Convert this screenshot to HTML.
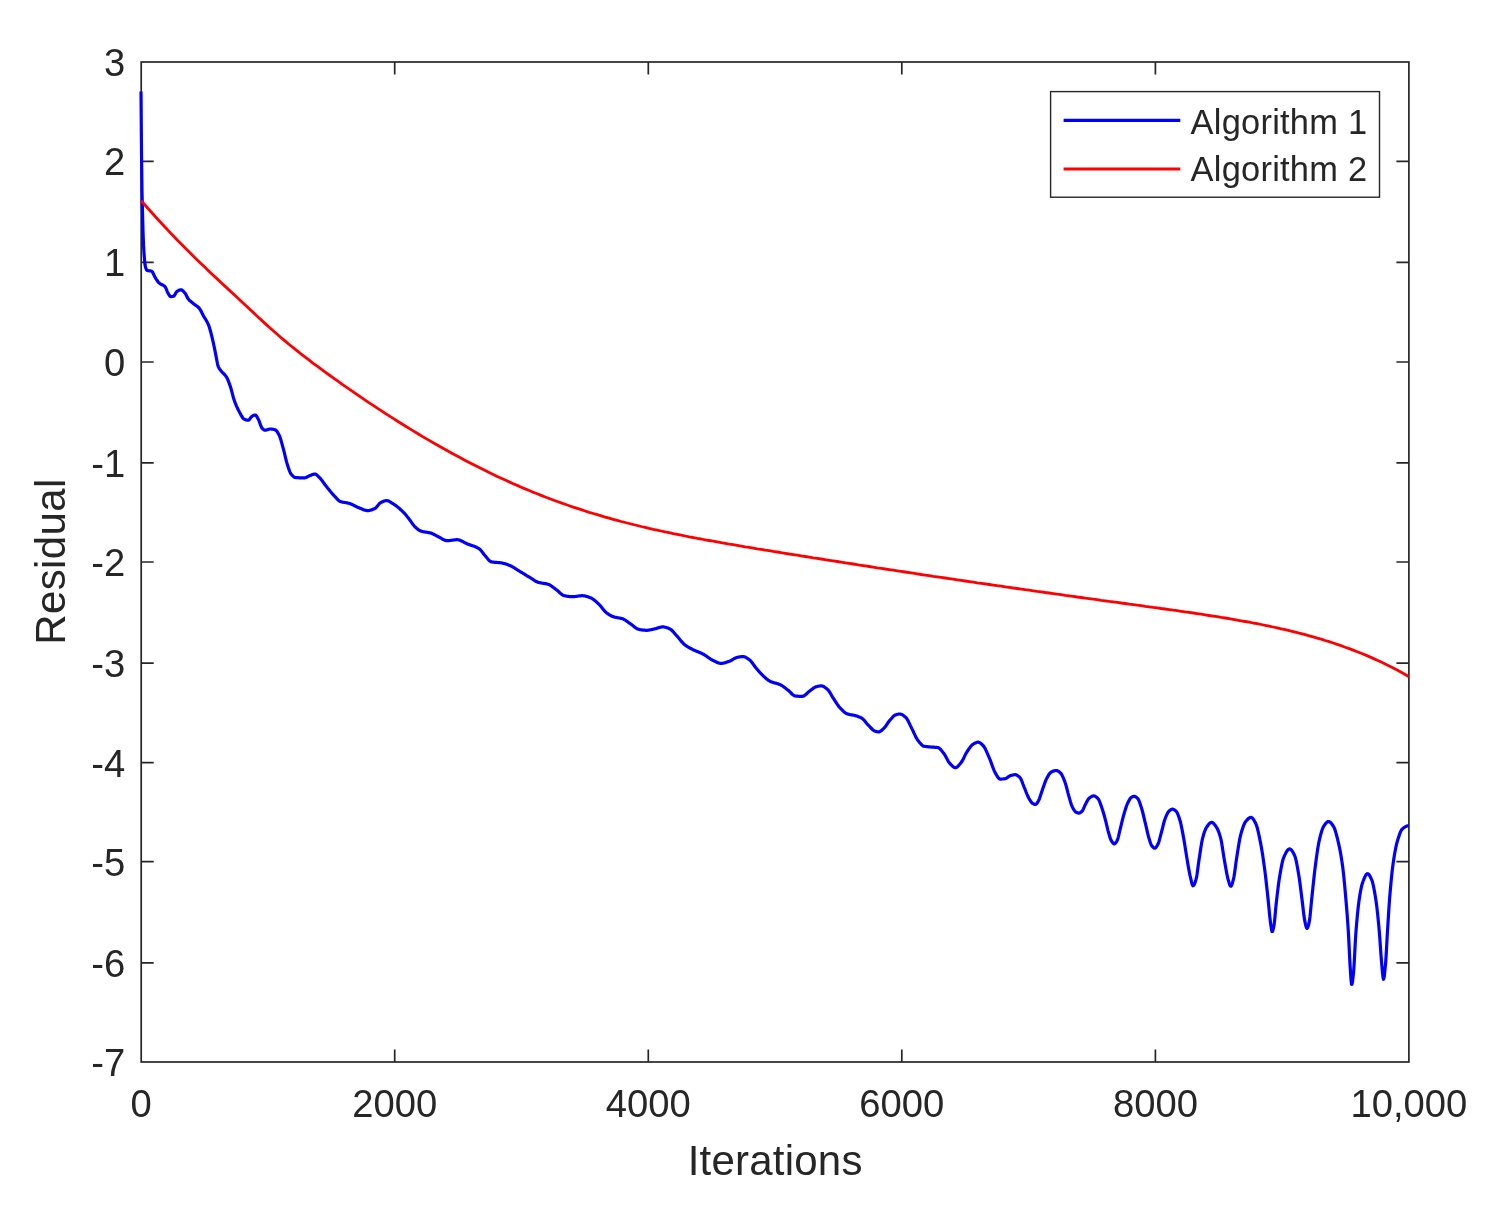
<!DOCTYPE html>
<html lang="en"><head><meta charset="utf-8"><title>Residual vs Iterations</title>
<style>html,body{margin:0;padding:0;background:#fff;}body{width:1493px;height:1207px;overflow:hidden;font-family:"Liberation Sans",Arial,sans-serif;}svg{display:block;}</style>
</head><body>
<svg width="1493" height="1207" viewBox="0 0 1493 1207" font-family="&quot;Liberation Sans&quot;, Arial, Helvetica, sans-serif" fill="#262626">
<rect width="1493" height="1207" fill="#fff"/>
<rect x="141.2" y="62.0" width="1267.7" height="1000.0" fill="none" stroke="#262626" stroke-width="1.7"/>
<path d="M394.7,1062.0 v-12.5 M394.7,62.0 v12.5 M648.3,1062.0 v-12.5 M648.3,62.0 v12.5 M901.8,1062.0 v-12.5 M901.8,62.0 v12.5 M1155.4,1062.0 v-12.5 M1155.4,62.0 v12.5 M141.2,161.3 h12.5 M1408.9,161.3 h-12.5 M141.2,262.3 h12.5 M1408.9,262.3 h-12.5 M141.2,362.0 h12.5 M1408.9,362.0 h-12.5 M141.2,462.8 h12.5 M1408.9,462.8 h-12.5 M141.2,562.0 h12.5 M1408.9,562.0 h-12.5 M141.2,663.1 h12.5 M1408.9,663.1 h-12.5 M141.2,762.6 h12.5 M1408.9,762.6 h-12.5 M141.2,861.6 h12.5 M1408.9,861.6 h-12.5 M141.2,962.9 h12.5 M1408.9,962.9 h-12.5" stroke="#262626" stroke-width="1.7" fill="none"/>
<path d="M141.0,91.5 L141.5,152.6 L142.0,191.1 L142.5,212.6 L143.0,231.2 L143.5,244.6 L144.0,253.1 L144.5,259.4 L145.0,264.6 L145.5,267.1 L146.0,268.7 L146.5,269.8 L147.0,270.4 L147.5,270.5 L148.0,270.7 L148.5,270.7 L149.0,270.8 L149.5,270.8 L150.0,270.9 L150.5,270.9 L151.0,271.0 L151.5,271.2 L152.0,271.5 L152.5,272.1 L153.0,273.0 L153.5,274.1 L154.0,275.2 L154.5,276.3 L155.0,277.2 L155.5,278.0 L156.0,278.8 L156.5,279.6 L157.0,280.3 L157.5,281.0 L158.0,281.7 L158.5,282.3 L159.0,282.8 L159.5,283.2 L160.0,283.6 L160.5,283.9 L161.0,284.2 L161.5,284.4 L162.0,284.7 L162.5,284.9 L163.0,285.2 L163.5,285.5 L164.0,285.8 L164.5,286.2 L165.0,286.7 L165.5,287.4 L166.0,288.4 L166.5,289.6 L167.0,290.9 L167.5,292.1 L168.0,293.2 L168.5,294.0 L169.0,294.8 L169.5,295.6 L170.0,296.2 L170.5,296.6 L171.0,296.6 L171.5,296.6 L172.0,296.5 L172.5,296.5 L173.0,296.4 L173.5,296.3 L174.0,296.0 L174.5,295.3 L175.0,294.5 L175.5,293.5 L176.0,292.6 L176.5,291.9 L177.0,291.4 L177.5,291.1 L178.0,290.8 L178.5,290.5 L179.0,290.3 L179.5,290.1 L180.0,289.9 L180.5,289.8 L181.0,289.8 L181.5,289.9 L182.0,290.1 L182.5,290.5 L183.0,290.9 L183.5,291.4 L184.0,292.0 L184.5,292.6 L185.0,293.1 L185.5,293.8 L186.0,294.7 L186.5,295.7 L187.0,296.8 L187.5,297.8 L188.0,298.6 L188.5,299.2 L189.0,299.8 L189.5,300.3 L190.0,300.8 L190.5,301.2 L191.0,301.6 L191.5,302.0 L192.0,302.4 L192.5,302.8 L193.0,303.2 L193.5,303.7 L194.0,304.1 L194.5,304.4 L195.0,304.8 L195.5,305.1 L196.0,305.5 L196.5,305.8 L197.0,306.2 L197.5,306.6 L198.0,307.0 L198.5,307.5 L199.0,308.0 L199.5,308.5 L200.0,309.3 L200.5,310.1 L201.0,311.0 L201.5,312.0 L202.0,313.0 L202.5,314.1 L203.0,315.0 L203.5,316.0 L204.0,316.8 L204.5,317.6 L205.0,318.4 L205.5,319.2 L206.0,320.0 L206.5,320.9 L207.0,321.8 L207.5,322.7 L208.0,323.8 L208.5,324.9 L209.0,326.3 L209.5,327.8 L210.0,329.5 L210.5,331.2 L211.0,333.1 L211.5,335.1 L212.0,337.1 L212.5,339.1 L213.0,341.3 L213.5,343.6 L214.0,346.0 L214.5,348.4 L215.0,350.9 L215.5,353.3 L216.0,355.9 L216.5,358.6 L217.0,361.3 L217.5,363.8 L218.0,365.8 L218.5,367.1 L219.0,368.1 L219.5,368.9 L220.0,369.6 L220.5,370.2 L221.0,370.8 L221.5,371.4 L222.0,372.0 L222.5,372.6 L223.0,373.1 L223.5,373.5 L224.0,374.0 L224.5,374.5 L225.0,375.1 L225.5,375.6 L226.0,376.3 L226.5,377.1 L227.0,377.9 L227.5,379.0 L228.0,380.1 L228.5,381.4 L229.0,382.7 L229.5,384.1 L230.0,385.5 L230.5,387.0 L231.0,388.6 L231.5,390.4 L232.0,392.3 L232.5,394.2 L233.0,396.1 L233.5,398.0 L234.0,399.6 L234.5,401.1 L235.0,402.4 L235.5,403.7 L236.0,404.9 L236.5,406.1 L237.0,407.2 L237.5,408.3 L238.0,409.3 L238.5,410.3 L239.0,411.2 L239.5,412.2 L240.0,413.1 L240.5,414.1 L241.0,415.0 L241.5,415.9 L242.0,416.8 L242.5,417.5 L243.0,418.2 L243.5,418.7 L244.0,419.1 L244.5,419.3 L245.0,419.5 L245.5,419.7 L246.0,419.9 L246.5,420.0 L247.0,420.1 L247.5,420.2 L248.0,420.2 L248.5,420.1 L249.0,419.8 L249.5,419.3 L250.0,418.6 L250.5,417.9 L251.0,417.3 L251.5,416.7 L252.0,416.3 L252.5,416.0 L253.0,415.7 L253.5,415.4 L254.0,415.2 L254.5,415.1 L255.0,415.0 L255.5,415.1 L256.0,415.5 L256.5,416.1 L257.0,416.9 L257.5,417.8 L258.0,418.6 L258.5,419.6 L259.0,420.7 L259.5,422.1 L260.0,423.5 L260.5,424.9 L261.0,426.2 L261.5,427.3 L262.0,428.1 L262.5,428.6 L263.0,429.1 L263.5,429.5 L264.0,429.8 L264.5,430.1 L265.0,430.2 L265.5,430.2 L266.0,430.1 L266.5,430.0 L267.0,429.8 L267.5,429.7 L268.0,429.5 L268.5,429.3 L269.0,429.2 L269.5,429.1 L270.0,429.0 L270.5,429.0 L271.0,429.0 L271.5,429.1 L272.0,429.1 L272.5,429.2 L273.0,429.3 L273.5,429.4 L274.0,429.5 L274.5,429.6 L275.0,429.7 L275.5,429.9 L276.0,430.3 L276.5,430.8 L277.0,431.4 L277.5,432.2 L278.0,433.1 L278.5,434.0 L279.0,434.9 L279.5,435.9 L280.0,437.2 L280.5,438.7 L281.0,440.3 L281.5,442.1 L282.0,443.9 L282.5,445.7 L283.0,447.6 L283.5,449.4 L284.0,451.4 L284.5,453.4 L285.0,455.5 L285.5,457.7 L286.0,459.7 L286.5,461.7 L287.0,463.4 L287.5,465.0 L288.0,466.5 L288.5,468.1 L289.0,469.5 L289.5,470.9 L290.0,472.1 L290.5,473.1 L291.0,474.0 L291.5,474.6 L292.0,475.2 L292.5,475.7 L293.0,476.2 L293.5,476.7 L294.0,477.0 L294.5,477.3 L295.0,477.5 L295.5,477.5 L296.0,477.6 L296.5,477.6 L297.0,477.6 L297.5,477.7 L298.0,477.7 L298.5,477.7 L299.0,477.8 L299.5,477.8 L300.0,477.8 L300.5,477.8 L301.0,477.9 L301.5,477.9 L302.0,477.9 L302.5,477.9 L303.0,477.9 L303.5,477.9 L304.0,477.9 L304.5,477.9 L305.0,477.8 L305.5,477.7 L306.0,477.5 L306.5,477.3 L307.0,477.1 L307.5,476.8 L308.0,476.6 L308.5,476.3 L309.0,476.0 L309.5,475.8 L310.0,475.6 L310.5,475.4 L311.0,475.2 L311.5,475.0 L312.0,474.7 L312.5,474.5 L313.0,474.4 L313.5,474.2 L314.0,474.1 L314.5,474.0 L315.0,474.0 L315.5,474.1 L316.0,474.4 L316.5,474.7 L317.0,475.1 L317.5,475.6 L318.0,476.1 L318.5,476.6 L319.0,477.1 L319.5,477.6 L320.0,478.1 L320.5,478.7 L321.0,479.2 L321.5,479.9 L322.0,480.5 L322.5,481.2 L323.0,481.9 L323.5,482.6 L324.0,483.3 L324.5,484.0 L325.0,484.7 L325.5,485.3 L326.0,486.0 L326.5,486.6 L327.0,487.2 L327.5,487.9 L328.0,488.5 L328.5,489.1 L329.0,489.7 L329.5,490.3 L330.0,491.0 L330.5,491.6 L331.0,492.2 L331.5,492.8 L332.0,493.4 L332.5,493.9 L333.0,494.5 L333.5,495.0 L334.0,495.6 L334.5,496.1 L335.0,496.6 L335.5,497.2 L336.0,497.7 L336.5,498.3 L337.0,498.8 L337.5,499.4 L338.0,499.9 L338.5,500.3 L339.0,500.7 L339.5,501.1 L340.0,501.4 L340.5,501.6 L341.0,501.8 L341.5,501.9 L342.0,502.0 L342.5,502.1 L343.0,502.2 L343.5,502.3 L344.0,502.4 L344.5,502.5 L345.0,502.5 L345.5,502.6 L346.0,502.7 L346.5,502.8 L347.0,502.8 L347.5,502.9 L348.0,503.1 L348.5,503.2 L349.0,503.3 L349.5,503.5 L350.0,503.6 L350.5,503.8 L351.0,504.0 L351.5,504.3 L352.0,504.5 L352.5,504.7 L353.0,505.0 L353.5,505.2 L354.0,505.5 L354.5,505.7 L355.0,506.0 L355.5,506.2 L356.0,506.5 L356.5,506.7 L357.0,506.9 L357.5,507.2 L358.0,507.4 L358.5,507.6 L359.0,507.8 L359.5,508.0 L360.0,508.2 L360.5,508.4 L361.0,508.6 L361.5,508.8 L362.0,509.1 L362.5,509.3 L363.0,509.5 L363.5,509.7 L364.0,509.9 L364.5,510.0 L365.0,510.2 L365.5,510.3 L366.0,510.4 L366.5,510.5 L367.0,510.6 L367.5,510.6 L368.0,510.6 L368.5,510.6 L369.0,510.5 L369.5,510.4 L370.0,510.3 L370.5,510.2 L371.0,510.0 L371.5,509.9 L372.0,509.7 L372.5,509.5 L373.0,509.3 L373.5,509.1 L374.0,508.9 L374.5,508.7 L375.0,508.4 L375.5,508.1 L376.0,507.6 L376.5,507.1 L377.0,506.5 L377.5,505.9 L378.0,505.3 L378.5,504.6 L379.0,504.1 L379.5,503.5 L380.0,503.1 L380.5,502.7 L381.0,502.5 L381.5,502.2 L382.0,502.0 L382.5,501.7 L383.0,501.5 L383.5,501.3 L384.0,501.1 L384.5,501.0 L385.0,500.8 L385.5,500.7 L386.0,500.6 L386.5,500.6 L387.0,500.6 L387.5,500.7 L388.0,500.8 L388.5,501.0 L389.0,501.2 L389.5,501.5 L390.0,501.8 L390.5,502.1 L391.0,502.4 L391.5,502.8 L392.0,503.1 L392.5,503.4 L393.0,503.7 L393.5,504.0 L394.0,504.4 L394.5,504.7 L395.0,505.0 L395.5,505.4 L396.0,505.7 L396.5,506.1 L397.0,506.5 L397.5,506.9 L398.0,507.3 L398.5,507.7 L399.0,508.1 L399.5,508.6 L400.0,509.0 L400.5,509.5 L401.0,509.9 L401.5,510.4 L402.0,510.8 L402.5,511.3 L403.0,511.8 L403.5,512.3 L404.0,512.8 L404.5,513.4 L405.0,513.9 L405.5,514.5 L406.0,515.1 L406.5,515.7 L407.0,516.4 L407.5,517.0 L408.0,517.6 L408.5,518.2 L409.0,518.9 L409.5,519.5 L410.0,520.2 L410.5,520.9 L411.0,521.6 L411.5,522.4 L412.0,523.1 L412.5,523.8 L413.0,524.5 L413.5,525.1 L414.0,525.7 L414.5,526.3 L415.0,526.8 L415.5,527.3 L416.0,527.7 L416.5,528.2 L417.0,528.6 L417.5,529.0 L418.0,529.4 L418.5,529.8 L419.0,530.2 L419.5,530.5 L420.0,530.7 L420.5,531.0 L421.0,531.1 L421.5,531.3 L422.0,531.4 L422.5,531.5 L423.0,531.7 L423.5,531.8 L424.0,531.9 L424.5,531.9 L425.0,532.0 L425.5,532.1 L426.0,532.2 L426.5,532.2 L427.0,532.3 L427.5,532.4 L428.0,532.5 L428.5,532.6 L429.0,532.6 L429.5,532.7 L430.0,532.9 L430.5,533.0 L431.0,533.1 L431.5,533.3 L432.0,533.5 L432.5,533.7 L433.0,533.9 L433.5,534.2 L434.0,534.4 L434.5,534.7 L435.0,534.9 L435.5,535.2 L436.0,535.5 L436.5,535.8 L437.0,536.1 L437.5,536.3 L438.0,536.6 L438.5,536.9 L439.0,537.1 L439.5,537.3 L440.0,537.6 L440.5,537.9 L441.0,538.2 L441.5,538.5 L442.0,538.8 L442.5,539.1 L443.0,539.4 L443.5,539.6 L444.0,539.9 L444.5,540.1 L445.0,540.3 L445.5,540.5 L446.0,540.6 L446.5,540.7 L447.0,540.7 L447.5,540.7 L448.0,540.7 L448.5,540.6 L449.0,540.6 L449.5,540.5 L450.0,540.5 L450.5,540.4 L451.0,540.4 L451.5,540.3 L452.0,540.2 L452.5,540.1 L453.0,540.1 L453.5,540.0 L454.0,539.9 L454.5,539.9 L455.0,539.8 L455.5,539.8 L456.0,539.7 L456.5,539.7 L457.0,539.7 L457.5,539.7 L458.0,539.8 L458.5,539.8 L459.0,540.0 L459.5,540.1 L460.0,540.3 L460.5,540.5 L461.0,540.7 L461.5,540.9 L462.0,541.2 L462.5,541.4 L463.0,541.7 L463.5,542.0 L464.0,542.3 L464.5,542.5 L465.0,542.8 L465.5,543.1 L466.0,543.3 L466.5,543.5 L467.0,543.8 L467.5,544.0 L468.0,544.2 L468.5,544.3 L469.0,544.5 L469.5,544.7 L470.0,544.9 L470.5,545.0 L471.0,545.2 L471.5,545.4 L472.0,545.5 L472.5,545.7 L473.0,545.9 L473.5,546.1 L474.0,546.3 L474.5,546.4 L475.0,546.6 L475.5,546.9 L476.0,547.1 L476.5,547.3 L477.0,547.5 L477.5,547.8 L478.0,548.1 L478.5,548.4 L479.0,548.7 L479.5,549.0 L480.0,549.4 L480.5,549.9 L481.0,550.5 L481.5,551.1 L482.0,551.7 L482.5,552.4 L483.0,553.0 L483.5,553.7 L484.0,554.4 L484.5,555.0 L485.0,555.6 L485.5,556.1 L486.0,556.7 L486.5,557.3 L487.0,558.0 L487.5,558.6 L488.0,559.2 L488.5,559.8 L489.0,560.3 L489.5,560.8 L490.0,561.2 L490.5,561.5 L491.0,561.7 L491.5,561.9 L492.0,562.0 L492.5,562.0 L493.0,562.1 L493.5,562.2 L494.0,562.2 L494.5,562.3 L495.0,562.3 L495.5,562.4 L496.0,562.4 L496.5,562.4 L497.0,562.5 L497.5,562.5 L498.0,562.5 L498.5,562.6 L499.0,562.6 L499.5,562.7 L500.0,562.7 L500.5,562.8 L501.0,562.9 L501.5,562.9 L502.0,563.0 L502.5,563.1 L503.0,563.2 L503.5,563.4 L504.0,563.5 L504.5,563.6 L505.0,563.8 L505.5,563.9 L506.0,564.1 L506.5,564.3 L507.0,564.4 L507.5,564.6 L508.0,564.8 L508.5,565.0 L509.0,565.2 L509.5,565.4 L510.0,565.6 L510.5,565.8 L511.0,566.0 L511.5,566.3 L512.0,566.5 L512.5,566.8 L513.0,567.1 L513.5,567.4 L514.0,567.7 L514.5,568.0 L515.0,568.3 L515.5,568.6 L516.0,569.0 L516.5,569.3 L517.0,569.6 L517.5,570.0 L518.0,570.3 L518.5,570.6 L519.0,570.9 L519.5,571.2 L520.0,571.5 L520.5,571.8 L521.0,572.1 L521.5,572.4 L522.0,572.7 L522.5,573.0 L523.0,573.3 L523.5,573.6 L524.0,573.9 L524.5,574.2 L525.0,574.5 L525.5,574.9 L526.0,575.2 L526.5,575.5 L527.0,575.8 L527.5,576.1 L528.0,576.4 L528.5,576.7 L529.0,576.9 L529.5,577.2 L530.0,577.5 L530.5,577.8 L531.0,578.2 L531.5,578.5 L532.0,578.8 L532.5,579.1 L533.0,579.5 L533.5,579.8 L534.0,580.1 L534.5,580.5 L535.0,580.8 L535.5,581.1 L536.0,581.4 L536.5,581.6 L537.0,581.8 L537.5,582.1 L538.0,582.2 L538.5,582.4 L539.0,582.5 L539.5,582.6 L540.0,582.8 L540.5,582.9 L541.0,582.9 L541.5,583.0 L542.0,583.1 L542.5,583.2 L543.0,583.3 L543.5,583.3 L544.0,583.4 L544.5,583.5 L545.0,583.6 L545.5,583.7 L546.0,583.7 L546.5,583.9 L547.0,584.0 L547.5,584.1 L548.0,584.2 L548.5,584.4 L549.0,584.6 L549.5,584.8 L550.0,585.1 L550.5,585.4 L551.0,585.7 L551.5,586.1 L552.0,586.4 L552.5,586.8 L553.0,587.2 L553.5,587.6 L554.0,588.0 L554.5,588.3 L555.0,588.7 L555.5,589.1 L556.0,589.5 L556.5,589.8 L557.0,590.2 L557.5,590.6 L558.0,591.1 L558.5,591.5 L559.0,592.0 L559.5,592.5 L560.0,592.9 L560.5,593.4 L561.0,593.8 L561.5,594.2 L562.0,594.6 L562.5,594.9 L563.0,595.2 L563.5,595.4 L564.0,595.6 L564.5,595.7 L565.0,595.8 L565.5,595.9 L566.0,596.0 L566.5,596.1 L567.0,596.2 L567.5,596.3 L568.0,596.4 L568.5,596.4 L569.0,596.5 L569.5,596.6 L570.0,596.6 L570.5,596.6 L571.0,596.7 L571.5,596.7 L572.0,596.7 L572.5,596.7 L573.0,596.7 L573.5,596.7 L574.0,596.6 L574.5,596.6 L575.0,596.5 L575.5,596.5 L576.0,596.4 L576.5,596.3 L577.0,596.3 L577.5,596.2 L578.0,596.1 L578.5,596.0 L579.0,596.0 L579.5,595.9 L580.0,595.8 L580.5,595.8 L581.0,595.8 L581.5,595.7 L582.0,595.7 L582.5,595.7 L583.0,595.7 L583.5,595.8 L584.0,595.8 L584.5,595.9 L585.0,596.0 L585.5,596.1 L586.0,596.2 L586.5,596.4 L587.0,596.5 L587.5,596.7 L588.0,596.8 L588.5,597.0 L589.0,597.2 L589.5,597.4 L590.0,597.6 L590.5,597.7 L591.0,598.0 L591.5,598.2 L592.0,598.5 L592.5,598.8 L593.0,599.1 L593.5,599.5 L594.0,599.9 L594.5,600.3 L595.0,600.7 L595.5,601.1 L596.0,601.5 L596.5,602.0 L597.0,602.4 L597.5,602.9 L598.0,603.3 L598.5,603.8 L599.0,604.3 L599.5,604.8 L600.0,605.4 L600.5,605.9 L601.0,606.5 L601.5,607.2 L602.0,607.8 L602.5,608.5 L603.0,609.1 L603.5,609.7 L604.0,610.3 L604.5,610.9 L605.0,611.4 L605.5,611.9 L606.0,612.4 L606.5,612.8 L607.0,613.2 L607.5,613.5 L608.0,613.9 L608.5,614.2 L609.0,614.6 L609.5,614.9 L610.0,615.2 L610.5,615.5 L611.0,615.7 L611.5,616.0 L612.0,616.2 L612.5,616.4 L613.0,616.6 L613.5,616.8 L614.0,617.0 L614.5,617.1 L615.0,617.2 L615.5,617.3 L616.0,617.4 L616.5,617.5 L617.0,617.6 L617.5,617.7 L618.0,617.8 L618.5,617.9 L619.0,618.0 L619.5,618.0 L620.0,618.1 L620.5,618.2 L621.0,618.4 L621.5,618.5 L622.0,618.6 L622.5,618.8 L623.0,618.9 L623.5,619.2 L624.0,619.4 L624.5,619.7 L625.0,620.0 L625.5,620.3 L626.0,620.6 L626.5,621.0 L627.0,621.3 L627.5,621.7 L628.0,622.0 L628.5,622.4 L629.0,622.8 L629.5,623.1 L630.0,623.5 L630.5,623.8 L631.0,624.2 L631.5,624.5 L632.0,624.9 L632.5,625.3 L633.0,625.7 L633.5,626.1 L634.0,626.6 L634.5,627.0 L635.0,627.4 L635.5,627.7 L636.0,628.1 L636.5,628.4 L637.0,628.7 L637.5,628.9 L638.0,629.1 L638.5,629.3 L639.0,629.4 L639.5,629.5 L640.0,629.6 L640.5,629.7 L641.0,629.8 L641.5,629.8 L642.0,629.9 L642.5,630.0 L643.0,630.1 L643.5,630.1 L644.0,630.2 L644.5,630.2 L645.0,630.2 L645.5,630.3 L646.0,630.3 L646.5,630.3 L647.0,630.3 L647.5,630.3 L648.0,630.2 L648.5,630.2 L649.0,630.1 L649.5,630.0 L650.0,629.9 L650.5,629.8 L651.0,629.7 L651.5,629.6 L652.0,629.5 L652.5,629.4 L653.0,629.3 L653.5,629.2 L654.0,629.0 L654.5,628.9 L655.0,628.8 L655.5,628.7 L656.0,628.6 L656.5,628.4 L657.0,628.3 L657.5,628.1 L658.0,627.9 L658.5,627.8 L659.0,627.6 L659.5,627.5 L660.0,627.3 L660.5,627.2 L661.0,627.1 L661.5,627.0 L662.0,626.9 L662.5,626.9 L663.0,626.9 L663.5,626.9 L664.0,627.0 L664.5,627.1 L665.0,627.2 L665.5,627.3 L666.0,627.4 L666.5,627.6 L667.0,627.7 L667.5,627.9 L668.0,628.1 L668.5,628.3 L669.0,628.5 L669.5,628.8 L670.0,629.0 L670.5,629.3 L671.0,629.6 L671.5,630.0 L672.0,630.5 L672.5,631.0 L673.0,631.5 L673.5,632.1 L674.0,632.7 L674.5,633.3 L675.0,633.9 L675.5,634.4 L676.0,635.0 L676.5,635.6 L677.0,636.1 L677.5,636.7 L678.0,637.2 L678.5,637.8 L679.0,638.4 L679.5,639.0 L680.0,639.6 L680.5,640.3 L681.0,640.9 L681.5,641.5 L682.0,642.0 L682.5,642.6 L683.0,643.2 L683.5,643.7 L684.0,644.1 L684.5,644.6 L685.0,645.0 L685.5,645.3 L686.0,645.7 L686.5,646.0 L687.0,646.4 L687.5,646.7 L688.0,647.0 L688.5,647.3 L689.0,647.6 L689.5,647.8 L690.0,648.1 L690.5,648.4 L691.0,648.6 L691.5,648.9 L692.0,649.1 L692.5,649.4 L693.0,649.7 L693.5,649.9 L694.0,650.1 L694.5,650.4 L695.0,650.6 L695.5,650.8 L696.0,651.0 L696.5,651.2 L697.0,651.4 L697.5,651.6 L698.0,651.8 L698.5,652.0 L699.0,652.2 L699.5,652.4 L700.0,652.6 L700.5,652.9 L701.0,653.1 L701.5,653.3 L702.0,653.5 L702.5,653.8 L703.0,654.1 L703.5,654.3 L704.0,654.6 L704.5,654.9 L705.0,655.2 L705.5,655.6 L706.0,655.9 L706.5,656.2 L707.0,656.6 L707.5,656.9 L708.0,657.3 L708.5,657.7 L709.0,658.0 L709.5,658.3 L710.0,658.7 L710.5,659.0 L711.0,659.3 L711.5,659.6 L712.0,659.9 L712.5,660.2 L713.0,660.4 L713.5,660.6 L714.0,660.9 L714.5,661.1 L715.0,661.4 L715.5,661.6 L716.0,661.9 L716.5,662.1 L717.0,662.4 L717.5,662.6 L718.0,662.8 L718.5,663.0 L719.0,663.1 L719.5,663.2 L720.0,663.3 L720.5,663.4 L721.0,663.4 L721.5,663.4 L722.0,663.4 L722.5,663.3 L723.0,663.2 L723.5,663.1 L724.0,663.0 L724.5,662.9 L725.0,662.7 L725.5,662.6 L726.0,662.4 L726.5,662.3 L727.0,662.1 L727.5,661.9 L728.0,661.8 L728.5,661.6 L729.0,661.4 L729.5,661.3 L730.0,661.0 L730.5,660.8 L731.0,660.5 L731.5,660.3 L732.0,660.0 L732.5,659.6 L733.0,659.3 L733.5,659.0 L734.0,658.7 L734.5,658.4 L735.0,658.2 L735.5,657.9 L736.0,657.7 L736.5,657.6 L737.0,657.4 L737.5,657.3 L738.0,657.2 L738.5,657.1 L739.0,657.0 L739.5,656.9 L740.0,656.9 L740.5,656.8 L741.0,656.7 L741.5,656.7 L742.0,656.6 L742.5,656.6 L743.0,656.6 L743.5,656.6 L744.0,656.7 L744.5,656.8 L745.0,657.0 L745.5,657.2 L746.0,657.5 L746.5,657.8 L747.0,658.1 L747.5,658.4 L748.0,658.8 L748.5,659.1 L749.0,659.5 L749.5,659.8 L750.0,660.2 L750.5,660.7 L751.0,661.3 L751.5,661.9 L752.0,662.5 L752.5,663.2 L753.0,663.9 L753.5,664.6 L754.0,665.3 L754.5,666.0 L755.0,666.7 L755.5,667.3 L756.0,668.0 L756.5,668.6 L757.0,669.2 L757.5,669.7 L758.0,670.3 L758.5,670.9 L759.0,671.4 L759.5,672.0 L760.0,672.6 L760.5,673.1 L761.0,673.6 L761.5,674.2 L762.0,674.7 L762.5,675.2 L763.0,675.7 L763.5,676.2 L764.0,676.6 L764.5,677.1 L765.0,677.5 L765.5,677.9 L766.0,678.4 L766.5,678.8 L767.0,679.2 L767.5,679.6 L768.0,680.0 L768.5,680.4 L769.0,680.7 L769.5,681.0 L770.0,681.3 L770.5,681.5 L771.0,681.7 L771.5,681.9 L772.0,682.1 L772.5,682.3 L773.0,682.4 L773.5,682.6 L774.0,682.7 L774.5,682.9 L775.0,683.0 L775.5,683.1 L776.0,683.3 L776.5,683.4 L777.0,683.5 L777.5,683.7 L778.0,683.8 L778.5,684.0 L779.0,684.2 L779.5,684.4 L780.0,684.6 L780.5,684.8 L781.0,685.1 L781.5,685.4 L782.0,685.7 L782.5,686.0 L783.0,686.3 L783.5,686.7 L784.0,687.1 L784.5,687.4 L785.0,687.8 L785.5,688.2 L786.0,688.6 L786.5,689.0 L787.0,689.4 L787.5,689.8 L788.0,690.1 L788.5,690.5 L789.0,691.0 L789.5,691.4 L790.0,691.9 L790.5,692.4 L791.0,693.0 L791.5,693.5 L792.0,694.0 L792.5,694.4 L793.0,694.9 L793.5,695.2 L794.0,695.5 L794.5,695.8 L795.0,696.0 L795.5,696.0 L796.0,696.1 L796.5,696.1 L797.0,696.2 L797.5,696.2 L798.0,696.2 L798.5,696.3 L799.0,696.3 L799.5,696.3 L800.0,696.4 L800.5,696.4 L801.0,696.4 L801.5,696.4 L802.0,696.4 L802.5,696.4 L803.0,696.3 L803.5,696.1 L804.0,695.9 L804.5,695.5 L805.0,695.1 L805.5,694.7 L806.0,694.3 L806.5,693.8 L807.0,693.3 L807.5,692.8 L808.0,692.4 L808.5,691.9 L809.0,691.5 L809.5,691.2 L810.0,690.8 L810.5,690.4 L811.0,690.0 L811.5,689.6 L812.0,689.3 L812.5,688.9 L813.0,688.5 L813.5,688.1 L814.0,687.8 L814.5,687.5 L815.0,687.2 L815.5,687.0 L816.0,686.8 L816.5,686.7 L817.0,686.6 L817.5,686.4 L818.0,686.3 L818.5,686.2 L819.0,686.1 L819.5,686.0 L820.0,686.0 L820.5,685.9 L821.0,685.9 L821.5,685.9 L822.0,686.0 L822.5,686.1 L823.0,686.2 L823.5,686.5 L824.0,686.7 L824.5,687.0 L825.0,687.4 L825.5,687.8 L826.0,688.2 L826.5,688.6 L827.0,689.0 L827.5,689.4 L828.0,689.9 L828.5,690.5 L829.0,691.1 L829.5,691.9 L830.0,692.7 L830.5,693.5 L831.0,694.4 L831.5,695.3 L832.0,696.1 L832.5,697.0 L833.0,697.8 L833.5,698.5 L834.0,699.3 L834.5,700.0 L835.0,700.8 L835.5,701.6 L836.0,702.4 L836.5,703.1 L837.0,703.9 L837.5,704.6 L838.0,705.3 L838.5,706.0 L839.0,706.7 L839.5,707.3 L840.0,707.9 L840.5,708.4 L841.0,708.9 L841.5,709.4 L842.0,709.9 L842.5,710.4 L843.0,710.9 L843.5,711.4 L844.0,711.8 L844.5,712.2 L845.0,712.6 L845.5,713.0 L846.0,713.3 L846.5,713.6 L847.0,713.8 L847.5,714.0 L848.0,714.1 L848.5,714.3 L849.0,714.4 L849.5,714.5 L850.0,714.6 L850.5,714.7 L851.0,714.8 L851.5,714.8 L852.0,714.9 L852.5,715.0 L853.0,715.1 L853.5,715.2 L854.0,715.3 L854.5,715.4 L855.0,715.5 L855.5,715.7 L856.0,715.8 L856.5,716.0 L857.0,716.1 L857.5,716.3 L858.0,716.5 L858.5,716.7 L859.0,716.9 L859.5,717.1 L860.0,717.3 L860.5,717.5 L861.0,717.8 L861.5,718.0 L862.0,718.3 L862.5,718.7 L863.0,719.2 L863.5,719.6 L864.0,720.2 L864.5,720.7 L865.0,721.3 L865.5,721.9 L866.0,722.5 L866.5,723.2 L867.0,723.8 L867.5,724.3 L868.0,724.9 L868.5,725.4 L869.0,725.9 L869.5,726.4 L870.0,726.9 L870.5,727.5 L871.0,728.0 L871.5,728.5 L872.0,729.0 L872.5,729.5 L873.0,729.9 L873.5,730.3 L874.0,730.6 L874.5,730.9 L875.0,731.1 L875.5,731.2 L876.0,731.4 L876.5,731.6 L877.0,731.7 L877.5,731.8 L878.0,731.9 L878.5,731.9 L879.0,731.9 L879.5,731.7 L880.0,731.5 L880.5,731.2 L881.0,730.9 L881.5,730.5 L882.0,730.0 L882.5,729.6 L883.0,729.1 L883.5,728.7 L884.0,728.2 L884.5,727.7 L885.0,727.1 L885.5,726.4 L886.0,725.7 L886.5,725.0 L887.0,724.2 L887.5,723.5 L888.0,722.7 L888.5,722.0 L889.0,721.3 L889.5,720.7 L890.0,720.2 L890.5,719.6 L891.0,719.0 L891.5,718.4 L892.0,717.8 L892.5,717.3 L893.0,716.7 L893.5,716.2 L894.0,715.8 L894.5,715.4 L895.0,715.1 L895.5,714.9 L896.0,714.7 L896.5,714.6 L897.0,714.4 L897.5,714.3 L898.0,714.2 L898.5,714.1 L899.0,714.0 L899.5,714.0 L900.0,714.0 L900.5,714.1 L901.0,714.2 L901.5,714.4 L902.0,714.6 L902.5,714.9 L903.0,715.2 L903.5,715.6 L904.0,716.0 L904.5,716.4 L905.0,716.8 L905.5,717.2 L906.0,717.7 L906.5,718.3 L907.0,719.0 L907.5,719.8 L908.0,720.7 L908.5,721.6 L909.0,722.7 L909.5,723.7 L910.0,724.8 L910.5,725.9 L911.0,726.9 L911.5,727.9 L912.0,728.9 L912.5,729.9 L913.0,730.9 L913.5,732.0 L914.0,733.1 L914.5,734.1 L915.0,735.2 L915.5,736.2 L916.0,737.2 L916.5,738.2 L917.0,739.0 L917.5,739.8 L918.0,740.5 L918.5,741.1 L919.0,741.8 L919.5,742.4 L920.0,743.0 L920.5,743.6 L921.0,744.2 L921.5,744.7 L922.0,745.2 L922.5,745.5 L923.0,745.9 L923.5,746.1 L924.0,746.2 L924.5,746.3 L925.0,746.4 L925.5,746.5 L926.0,746.5 L926.5,746.6 L927.0,746.7 L927.5,746.7 L928.0,746.8 L928.5,746.8 L929.0,746.8 L929.5,746.9 L930.0,746.9 L930.5,747.0 L931.0,747.0 L931.5,747.1 L932.0,747.1 L932.5,747.1 L933.0,747.2 L933.5,747.2 L934.0,747.2 L934.5,747.3 L935.0,747.3 L935.5,747.3 L936.0,747.4 L936.5,747.4 L937.0,747.5 L937.5,747.5 L938.0,747.6 L938.5,747.8 L939.0,748.0 L939.5,748.4 L940.0,748.8 L940.5,749.3 L941.0,749.9 L941.5,750.5 L942.0,751.1 L942.5,751.8 L943.0,752.4 L943.5,753.1 L944.0,753.7 L944.5,754.4 L945.0,755.2 L945.5,756.1 L946.0,757.0 L946.5,758.0 L947.0,758.9 L947.5,759.9 L948.0,760.8 L948.5,761.6 L949.0,762.4 L949.5,763.1 L950.0,763.7 L950.5,764.2 L951.0,764.7 L951.5,765.2 L952.0,765.7 L952.5,766.2 L953.0,766.6 L953.5,767.0 L954.0,767.3 L954.5,767.5 L955.0,767.7 L955.5,767.7 L956.0,767.6 L956.5,767.4 L957.0,767.1 L957.5,766.7 L958.0,766.2 L958.5,765.7 L959.0,765.1 L959.5,764.5 L960.0,763.9 L960.5,763.3 L961.0,762.7 L961.5,762.0 L962.0,761.3 L962.5,760.4 L963.0,759.5 L963.5,758.5 L964.0,757.5 L964.5,756.4 L965.0,755.4 L965.5,754.4 L966.0,753.4 L966.5,752.6 L967.0,751.7 L967.5,751.0 L968.0,750.3 L968.5,749.5 L969.0,748.8 L969.5,748.1 L970.0,747.4 L970.5,746.7 L971.0,746.1 L971.5,745.6 L972.0,745.0 L972.5,744.6 L973.0,744.3 L973.5,744.0 L974.0,743.7 L974.5,743.4 L975.0,743.1 L975.5,742.9 L976.0,742.7 L976.5,742.5 L977.0,742.3 L977.5,742.2 L978.0,742.2 L978.5,742.2 L979.0,742.4 L979.5,742.6 L980.0,742.9 L980.5,743.2 L981.0,743.6 L981.5,744.0 L982.0,744.5 L982.5,745.0 L983.0,745.5 L983.5,746.0 L984.0,746.7 L984.5,747.5 L985.0,748.4 L985.5,749.3 L986.0,750.4 L986.5,751.4 L987.0,752.6 L987.5,753.7 L988.0,754.9 L988.5,756.0 L989.0,757.2 L989.5,758.3 L990.0,759.5 L990.5,760.8 L991.0,762.2 L991.5,763.6 L992.0,765.0 L992.5,766.4 L993.0,767.7 L993.5,769.0 L994.0,770.3 L994.5,771.4 L995.0,772.4 L995.5,773.2 L996.0,774.1 L996.5,775.0 L997.0,775.8 L997.5,776.6 L998.0,777.4 L998.5,778.0 L999.0,778.5 L999.5,778.9 L1000.0,779.1 L1000.5,779.1 L1001.0,779.1 L1001.5,779.1 L1002.0,779.0 L1002.5,779.0 L1003.0,779.0 L1003.5,778.9 L1004.0,778.9 L1004.5,778.8 L1005.0,778.7 L1005.5,778.6 L1006.0,778.5 L1006.5,778.2 L1007.0,777.9 L1007.5,777.5 L1008.0,777.1 L1008.5,776.7 L1009.0,776.4 L1009.5,776.1 L1010.0,775.8 L1010.5,775.6 L1011.0,775.5 L1011.5,775.3 L1012.0,775.2 L1012.5,775.1 L1013.0,775.0 L1013.5,774.9 L1014.0,774.8 L1014.5,774.7 L1015.0,774.7 L1015.5,774.7 L1016.0,774.8 L1016.5,775.0 L1017.0,775.2 L1017.5,775.5 L1018.0,775.9 L1018.5,776.3 L1019.0,776.7 L1019.5,777.2 L1020.0,777.7 L1020.5,778.3 L1021.0,779.2 L1021.5,780.3 L1022.0,781.5 L1022.5,782.8 L1023.0,784.2 L1023.5,785.5 L1024.0,786.8 L1024.5,788.0 L1025.0,789.2 L1025.5,790.5 L1026.0,791.8 L1026.5,793.0 L1027.0,794.3 L1027.5,795.4 L1028.0,796.5 L1028.5,797.6 L1029.0,798.5 L1029.5,799.3 L1030.0,800.2 L1030.5,801.0 L1031.0,801.8 L1031.5,802.4 L1032.0,802.9 L1032.5,803.3 L1033.0,803.6 L1033.5,803.8 L1034.0,804.1 L1034.5,804.2 L1035.0,804.4 L1035.5,804.4 L1036.0,804.2 L1036.5,803.8 L1037.0,803.2 L1037.5,802.5 L1038.0,801.7 L1038.5,800.8 L1039.0,799.8 L1039.5,798.6 L1040.0,797.1 L1040.5,795.6 L1041.0,794.0 L1041.5,792.4 L1042.0,791.0 L1042.5,789.6 L1043.0,788.1 L1043.5,786.7 L1044.0,785.2 L1044.5,783.8 L1045.0,782.4 L1045.5,781.1 L1046.0,779.9 L1046.5,778.9 L1047.0,777.9 L1047.5,777.0 L1048.0,776.1 L1048.5,775.2 L1049.0,774.4 L1049.5,773.7 L1050.0,773.1 L1050.5,772.6 L1051.0,772.2 L1051.5,772.0 L1052.0,771.7 L1052.5,771.5 L1053.0,771.2 L1053.5,771.0 L1054.0,770.9 L1054.5,770.7 L1055.0,770.6 L1055.5,770.5 L1056.0,770.5 L1056.5,770.5 L1057.0,770.6 L1057.5,770.8 L1058.0,771.1 L1058.5,771.4 L1059.0,771.7 L1059.5,772.1 L1060.0,772.6 L1060.5,773.0 L1061.0,773.5 L1061.5,774.2 L1062.0,775.1 L1062.5,776.1 L1063.0,777.2 L1063.5,778.3 L1064.0,779.6 L1064.5,780.9 L1065.0,782.2 L1065.5,783.7 L1066.0,785.4 L1066.5,787.2 L1067.0,789.2 L1067.5,791.1 L1068.0,793.1 L1068.5,794.9 L1069.0,796.6 L1069.5,798.4 L1070.0,800.1 L1070.5,801.9 L1071.0,803.5 L1071.5,805.0 L1072.0,806.3 L1072.5,807.3 L1073.0,808.2 L1073.5,809.1 L1074.0,809.9 L1074.5,810.6 L1075.0,811.3 L1075.5,811.8 L1076.0,812.1 L1076.5,812.4 L1077.0,812.6 L1077.5,812.8 L1078.0,813.0 L1078.5,813.1 L1079.0,813.1 L1079.5,813.0 L1080.0,812.8 L1080.5,812.5 L1081.0,812.1 L1081.5,811.7 L1082.0,811.3 L1082.5,810.7 L1083.0,809.8 L1083.5,808.7 L1084.0,807.5 L1084.5,806.3 L1085.0,805.2 L1085.5,804.2 L1086.0,803.3 L1086.5,802.3 L1087.0,801.4 L1087.5,800.5 L1088.0,799.7 L1088.5,798.9 L1089.0,798.4 L1089.5,797.9 L1090.0,797.6 L1090.5,797.2 L1091.0,796.9 L1091.5,796.6 L1092.0,796.3 L1092.5,796.1 L1093.0,796.0 L1093.5,795.9 L1094.0,795.9 L1094.5,796.0 L1095.0,796.2 L1095.5,796.5 L1096.0,796.8 L1096.5,797.2 L1097.0,797.7 L1097.5,798.2 L1098.0,798.7 L1098.5,799.3 L1099.0,800.2 L1099.5,801.3 L1100.0,802.6 L1100.5,804.0 L1101.0,805.4 L1101.5,806.8 L1102.0,808.3 L1102.5,809.8 L1103.0,811.4 L1103.5,813.0 L1104.0,814.8 L1104.5,816.5 L1105.0,818.4 L1105.5,820.2 L1106.0,822.2 L1106.5,824.3 L1107.0,826.4 L1107.5,828.5 L1108.0,830.6 L1108.5,832.3 L1109.0,834.1 L1109.5,835.8 L1110.0,837.4 L1110.5,838.9 L1111.0,840.1 L1111.5,841.0 L1112.0,841.7 L1112.5,842.4 L1113.0,843.0 L1113.5,843.5 L1114.0,843.8 L1114.5,843.8 L1115.0,843.5 L1115.5,843.0 L1116.0,842.4 L1116.5,841.6 L1117.0,840.7 L1117.5,839.7 L1118.0,838.2 L1118.5,836.3 L1119.0,834.2 L1119.5,832.0 L1120.0,829.8 L1120.5,827.8 L1121.0,825.8 L1121.5,823.7 L1122.0,821.6 L1122.5,819.6 L1123.0,817.6 L1123.5,815.7 L1124.0,814.0 L1124.5,812.3 L1125.0,810.6 L1125.5,809.0 L1126.0,807.4 L1126.5,806.0 L1127.0,804.7 L1127.5,803.5 L1128.0,802.5 L1128.5,801.5 L1129.0,800.5 L1129.5,799.6 L1130.0,798.8 L1130.5,798.1 L1131.0,797.6 L1131.5,797.3 L1132.0,797.0 L1132.5,796.7 L1133.0,796.5 L1133.5,796.4 L1134.0,796.3 L1134.5,796.3 L1135.0,796.5 L1135.5,796.7 L1136.0,797.0 L1136.5,797.4 L1137.0,797.9 L1137.5,798.4 L1138.0,798.9 L1138.5,799.7 L1139.0,800.7 L1139.5,802.0 L1140.0,803.4 L1140.5,804.9 L1141.0,806.5 L1141.5,808.1 L1142.0,809.7 L1142.5,811.5 L1143.0,813.5 L1143.5,815.5 L1144.0,817.7 L1144.5,819.8 L1145.0,821.9 L1145.5,823.9 L1146.0,826.0 L1146.5,828.2 L1147.0,830.4 L1147.5,832.6 L1148.0,834.6 L1148.5,836.5 L1149.0,838.2 L1149.5,839.9 L1150.0,841.5 L1150.5,843.0 L1151.0,844.3 L1151.5,845.4 L1152.0,846.1 L1152.5,846.7 L1153.0,847.2 L1153.5,847.6 L1154.0,848.0 L1154.5,848.2 L1155.0,848.2 L1155.5,847.9 L1156.0,847.4 L1156.5,846.7 L1157.0,845.9 L1157.5,845.0 L1158.0,844.1 L1158.5,842.9 L1159.0,841.4 L1159.5,839.6 L1160.0,837.7 L1160.5,835.8 L1161.0,833.8 L1161.5,832.0 L1162.0,830.1 L1162.5,828.2 L1163.0,826.1 L1163.5,824.1 L1164.0,822.2 L1164.5,820.5 L1165.0,819.0 L1165.5,817.7 L1166.0,816.4 L1166.5,815.3 L1167.0,814.2 L1167.5,813.2 L1168.0,812.4 L1168.5,811.7 L1169.0,811.2 L1169.5,810.7 L1170.0,810.3 L1170.5,809.9 L1171.0,809.6 L1171.5,809.3 L1172.0,809.2 L1172.5,809.1 L1173.0,809.2 L1173.5,809.3 L1174.0,809.6 L1174.5,809.9 L1175.0,810.3 L1175.5,810.7 L1176.0,811.2 L1176.5,811.7 L1177.0,812.5 L1177.5,813.5 L1178.0,814.7 L1178.5,816.0 L1179.0,817.4 L1179.5,818.9 L1180.0,820.5 L1180.5,822.3 L1181.0,824.5 L1181.5,826.8 L1182.0,829.3 L1182.5,831.9 L1183.0,834.6 L1183.5,837.4 L1184.0,840.1 L1184.5,843.1 L1185.0,846.2 L1185.5,849.4 L1186.0,852.6 L1186.5,855.8 L1187.0,858.8 L1187.5,861.7 L1188.0,864.7 L1188.5,867.6 L1189.0,870.4 L1189.5,873.0 L1190.0,875.4 L1190.5,877.5 L1191.0,879.7 L1191.5,881.9 L1192.0,883.8 L1192.5,885.1 L1193.0,885.8 L1193.5,885.6 L1194.0,885.0 L1194.5,884.0 L1195.0,882.6 L1195.5,881.1 L1196.0,879.4 L1196.5,877.4 L1197.0,874.5 L1197.5,871.0 L1198.0,867.2 L1198.5,863.4 L1199.0,860.0 L1199.5,856.8 L1200.0,853.4 L1200.5,850.1 L1201.0,846.8 L1201.5,843.8 L1202.0,841.0 L1202.5,838.7 L1203.0,836.8 L1203.5,835.0 L1204.0,833.3 L1204.5,831.8 L1205.0,830.5 L1205.5,829.3 L1206.0,828.3 L1206.5,827.4 L1207.0,826.7 L1207.5,826.0 L1208.0,825.3 L1208.5,824.6 L1209.0,824.0 L1209.5,823.5 L1210.0,823.1 L1210.5,822.7 L1211.0,822.5 L1211.5,822.4 L1212.0,822.4 L1212.5,822.6 L1213.0,822.9 L1213.5,823.4 L1214.0,823.9 L1214.5,824.5 L1215.0,825.1 L1215.5,825.8 L1216.0,826.5 L1216.5,827.3 L1217.0,828.1 L1217.5,829.0 L1218.0,830.1 L1218.5,831.4 L1219.0,832.7 L1219.5,834.2 L1220.0,835.9 L1220.5,837.6 L1221.0,839.6 L1221.5,842.1 L1222.0,845.0 L1222.5,848.2 L1223.0,851.4 L1223.5,854.7 L1224.0,857.9 L1224.5,860.8 L1225.0,863.6 L1225.5,866.5 L1226.0,869.3 L1226.5,872.1 L1227.0,874.6 L1227.5,877.0 L1228.0,879.0 L1228.5,880.7 L1229.0,882.5 L1229.5,884.1 L1230.0,885.4 L1230.5,886.2 L1231.0,886.2 L1231.5,885.6 L1232.0,884.3 L1232.5,882.7 L1233.0,880.8 L1233.5,878.9 L1234.0,876.5 L1234.5,873.4 L1235.0,869.9 L1235.5,866.2 L1236.0,862.4 L1236.5,858.9 L1237.0,855.8 L1237.5,852.6 L1238.0,849.4 L1238.5,846.3 L1239.0,843.2 L1239.5,840.4 L1240.0,837.8 L1240.5,835.6 L1241.0,833.7 L1241.5,831.9 L1242.0,830.3 L1242.5,828.7 L1243.0,827.2 L1243.5,825.8 L1244.0,824.6 L1244.5,823.5 L1245.0,822.5 L1245.5,821.8 L1246.0,821.1 L1246.5,820.6 L1247.0,820.0 L1247.5,819.5 L1248.0,819.0 L1248.5,818.5 L1249.0,818.1 L1249.5,817.8 L1250.0,817.6 L1250.5,817.5 L1251.0,817.4 L1251.5,817.5 L1252.0,817.8 L1252.5,818.2 L1253.0,818.8 L1253.5,819.5 L1254.0,820.3 L1254.5,821.2 L1255.0,822.1 L1255.5,823.0 L1256.0,824.1 L1256.5,825.4 L1257.0,827.0 L1257.5,828.8 L1258.0,830.8 L1258.5,833.0 L1259.0,835.3 L1259.5,837.7 L1260.0,840.1 L1260.5,842.6 L1261.0,845.2 L1261.5,847.9 L1262.0,850.9 L1262.5,854.1 L1263.0,857.4 L1263.5,860.9 L1264.0,864.4 L1264.5,868.1 L1265.0,871.9 L1265.5,875.9 L1266.0,880.2 L1266.5,884.7 L1267.0,889.2 L1267.5,893.8 L1268.0,898.5 L1268.5,903.3 L1269.0,908.6 L1269.5,913.8 L1270.0,918.6 L1270.5,922.6 L1271.0,926.2 L1271.5,929.5 L1272.0,931.5 L1272.5,931.4 L1273.0,930.0 L1273.5,927.9 L1274.0,925.4 L1274.5,921.6 L1275.0,916.5 L1275.5,910.9 L1276.0,905.5 L1276.5,901.0 L1277.0,896.6 L1277.5,892.4 L1278.0,888.2 L1278.5,884.3 L1279.0,880.7 L1279.5,877.4 L1280.0,874.4 L1280.5,871.6 L1281.0,868.8 L1281.5,866.1 L1282.0,863.7 L1282.5,861.4 L1283.0,859.5 L1283.5,858.0 L1284.0,856.8 L1284.5,855.6 L1285.0,854.6 L1285.5,853.6 L1286.0,852.6 L1286.5,851.7 L1287.0,851.0 L1287.5,850.3 L1288.0,849.7 L1288.5,849.3 L1289.0,849.0 L1289.5,848.9 L1290.0,849.0 L1290.5,849.2 L1291.0,849.6 L1291.5,850.1 L1292.0,850.7 L1292.5,851.5 L1293.0,852.4 L1293.5,853.3 L1294.0,854.3 L1294.5,855.3 L1295.0,856.5 L1295.5,858.1 L1296.0,860.1 L1296.5,862.4 L1297.0,865.0 L1297.5,867.7 L1298.0,870.5 L1298.5,873.4 L1299.0,876.4 L1299.5,879.8 L1300.0,883.5 L1300.5,887.4 L1301.0,891.5 L1301.5,895.5 L1302.0,899.4 L1302.5,903.5 L1303.0,907.8 L1303.5,912.1 L1304.0,916.1 L1304.5,919.4 L1305.0,921.9 L1305.5,924.3 L1306.0,926.3 L1306.5,927.8 L1307.0,928.4 L1307.5,927.9 L1308.0,926.7 L1308.5,925.0 L1309.0,923.0 L1309.5,920.4 L1310.0,916.5 L1310.5,911.7 L1311.0,906.3 L1311.5,901.0 L1312.0,896.1 L1312.5,891.5 L1313.0,886.7 L1313.5,882.0 L1314.0,877.3 L1314.5,872.9 L1315.0,868.6 L1315.5,864.8 L1316.0,861.0 L1316.5,857.3 L1317.0,853.8 L1317.5,850.3 L1318.0,847.2 L1318.5,844.2 L1319.0,841.6 L1319.5,839.4 L1320.0,837.3 L1320.5,835.3 L1321.0,833.5 L1321.5,831.7 L1322.0,830.2 L1322.5,828.8 L1323.0,827.6 L1323.5,826.7 L1324.0,825.9 L1324.5,825.1 L1325.0,824.4 L1325.5,823.7 L1326.0,823.1 L1326.5,822.6 L1327.0,822.1 L1327.5,821.8 L1328.0,821.6 L1328.5,821.5 L1329.0,821.6 L1329.5,821.8 L1330.0,822.1 L1330.5,822.5 L1331.0,823.0 L1331.5,823.6 L1332.0,824.3 L1332.5,825.0 L1333.0,825.7 L1333.5,826.5 L1334.0,827.4 L1334.5,828.5 L1335.0,829.9 L1335.5,831.4 L1336.0,833.1 L1336.5,835.0 L1337.0,836.9 L1337.5,838.9 L1338.0,841.0 L1338.5,843.1 L1339.0,845.3 L1339.5,847.6 L1340.0,850.1 L1340.5,852.8 L1341.0,855.7 L1341.5,858.8 L1342.0,862.1 L1342.5,865.6 L1343.0,869.4 L1343.5,873.8 L1344.0,878.6 L1344.5,883.7 L1345.0,889.2 L1345.5,894.8 L1346.0,900.6 L1346.5,906.5 L1347.0,912.7 L1347.5,919.3 L1348.0,926.4 L1348.5,934.3 L1349.0,944.1 L1349.5,954.7 L1350.0,964.2 L1350.5,972.0 L1351.0,979.6 L1351.5,984.3 L1352.0,984.3 L1352.5,981.7 L1353.0,977.6 L1353.5,973.0 L1354.0,966.3 L1354.5,957.4 L1355.0,947.6 L1355.5,938.5 L1356.0,931.3 L1356.5,925.2 L1357.0,919.4 L1357.5,914.0 L1358.0,909.1 L1358.5,904.7 L1359.0,900.8 L1359.5,897.4 L1360.0,894.3 L1360.5,891.4 L1361.0,888.8 L1361.5,886.5 L1362.0,884.5 L1362.5,882.9 L1363.0,881.5 L1363.5,880.2 L1364.0,878.9 L1364.5,877.7 L1365.0,876.6 L1365.5,875.6 L1366.0,874.8 L1366.5,874.2 L1367.0,873.8 L1367.5,873.7 L1368.0,873.8 L1368.5,874.2 L1369.0,874.7 L1369.5,875.4 L1370.0,876.2 L1370.5,877.2 L1371.0,878.2 L1371.5,879.3 L1372.0,880.5 L1372.5,882.1 L1373.0,884.1 L1373.5,886.3 L1374.0,888.8 L1374.5,891.6 L1375.0,894.5 L1375.5,897.5 L1376.0,900.7 L1376.5,904.3 L1377.0,908.4 L1377.5,912.9 L1378.0,917.7 L1378.5,922.8 L1379.0,928.1 L1379.5,934.0 L1380.0,940.8 L1380.5,948.1 L1381.0,955.1 L1381.5,961.3 L1382.0,967.0 L1382.5,972.8 L1383.0,977.4 L1383.5,979.3 L1384.0,977.9 L1384.5,974.4 L1385.0,969.7 L1385.5,964.6 L1386.0,957.6 L1386.5,948.8 L1387.0,939.5 L1387.5,931.0 L1388.0,922.9 L1388.5,914.8 L1389.0,907.0 L1389.5,899.9 L1390.0,893.7 L1390.5,888.0 L1391.0,882.5 L1391.5,877.4 L1392.0,872.6 L1392.5,868.3 L1393.0,864.4 L1393.5,861.0 L1394.0,857.7 L1394.5,854.6 L1395.0,851.8 L1395.5,849.1 L1396.0,846.7 L1396.5,844.4 L1397.0,842.5 L1397.5,840.7 L1398.0,839.0 L1398.5,837.4 L1399.0,835.9 L1399.5,834.4 L1400.0,833.1 L1400.5,831.9 L1401.0,830.8 L1401.5,830.0 L1402.0,829.3 L1402.5,828.8 L1403.0,828.4 L1403.5,828.0 L1404.0,827.7 L1404.5,827.3 L1405.0,827.0 L1405.5,826.7 L1406.0,826.4 L1406.5,826.2 L1407.0,826.0 L1407.5,825.9 L1408.0,825.8 L1408.5,825.7 L1408.9,825.7" fill="none" stroke="#0000ff" stroke-width="3.2" stroke-linejoin="round" stroke-linecap="butt"/>
<path d="M141.2,200.8 L145.2,205.3 L149.2,209.8 L153.2,214.3 L157.2,218.7 L161.2,223.0 L165.2,227.3 L169.2,231.6 L173.2,235.8 L177.2,239.9 L181.2,244.0 L185.2,248.0 L189.2,252.0 L193.2,256.0 L197.2,259.9 L201.2,263.8 L205.2,267.6 L209.2,271.4 L213.2,275.2 L217.2,278.9 L221.2,282.7 L225.2,286.4 L229.2,290.1 L233.2,293.8 L237.2,297.5 L241.2,301.3 L245.2,305.0 L249.2,308.7 L253.2,312.4 L257.2,316.2 L261.2,319.9 L265.2,323.6 L269.2,327.2 L273.2,330.8 L277.2,334.3 L281.2,337.8 L285.2,341.1 L289.2,344.5 L293.2,347.7 L297.2,350.9 L301.2,354.1 L305.2,357.2 L309.2,360.2 L313.2,363.3 L317.2,366.2 L321.2,369.2 L325.2,372.1 L329.2,375.0 L333.2,377.9 L337.2,380.7 L341.2,383.6 L345.2,386.4 L349.2,389.1 L353.2,391.9 L357.2,394.7 L361.2,397.4 L365.2,400.1 L369.2,402.8 L373.2,405.4 L377.2,408.1 L381.2,410.7 L385.2,413.3 L389.2,415.9 L393.2,418.4 L397.2,421.0 L401.2,423.5 L405.2,426.0 L409.2,428.4 L413.2,430.9 L417.2,433.3 L421.2,435.7 L425.2,438.1 L429.2,440.4 L433.2,442.7 L437.2,445.0 L441.2,447.3 L445.2,449.5 L449.2,451.8 L453.2,454.0 L457.2,456.1 L461.2,458.3 L465.2,460.4 L469.2,462.5 L473.2,464.5 L477.2,466.6 L481.2,468.6 L485.2,470.6 L489.2,472.5 L493.2,474.5 L497.2,476.4 L501.2,478.2 L505.2,480.1 L509.2,481.9 L513.2,483.7 L517.2,485.4 L521.2,487.2 L525.2,488.9 L529.2,490.5 L533.2,492.2 L537.2,493.8 L541.2,495.4 L545.2,497.0 L549.2,498.5 L553.2,500.0 L557.2,501.5 L561.2,502.9 L565.2,504.3 L569.2,505.7 L573.2,507.1 L577.2,508.4 L581.2,509.7 L585.2,511.0 L589.2,512.3 L593.2,513.5 L597.2,514.7 L601.2,515.9 L605.2,517.1 L609.2,518.2 L613.2,519.3 L617.2,520.4 L621.2,521.5 L625.2,522.5 L629.2,523.5 L633.2,524.5 L637.2,525.5 L641.2,526.5 L645.2,527.4 L649.2,528.4 L653.2,529.3 L657.2,530.1 L661.2,531.0 L665.2,531.9 L669.2,532.7 L673.2,533.6 L677.2,534.4 L681.2,535.2 L685.2,536.0 L689.2,536.8 L693.2,537.5 L697.2,538.3 L701.2,539.0 L705.2,539.8 L709.2,540.5 L713.2,541.2 L717.2,541.9 L721.2,542.7 L725.2,543.4 L729.2,544.1 L733.2,544.7 L737.2,545.4 L741.2,546.1 L745.2,546.8 L749.2,547.4 L753.2,548.1 L757.2,548.8 L761.2,549.4 L765.2,550.1 L769.2,550.7 L773.2,551.4 L777.2,552.0 L781.2,552.7 L785.2,553.3 L789.2,554.0 L793.2,554.6 L797.2,555.2 L801.2,555.9 L805.2,556.5 L809.2,557.1 L813.2,557.8 L817.2,558.4 L821.2,559.0 L825.2,559.7 L829.2,560.3 L833.2,560.9 L837.2,561.5 L841.2,562.2 L845.2,562.8 L849.2,563.4 L853.2,564.0 L857.2,564.7 L861.2,565.3 L865.2,565.9 L869.2,566.5 L873.2,567.1 L877.2,567.8 L881.2,568.4 L885.2,569.0 L889.2,569.6 L893.2,570.2 L897.2,570.8 L901.2,571.4 L905.2,572.0 L909.2,572.6 L913.2,573.2 L917.2,573.8 L921.2,574.5 L925.2,575.1 L929.2,575.7 L933.2,576.3 L937.2,576.8 L941.2,577.4 L945.2,578.0 L949.2,578.6 L953.2,579.2 L957.2,579.8 L961.2,580.4 L965.2,581.0 L969.2,581.6 L973.2,582.2 L977.2,582.8 L981.2,583.3 L985.2,583.9 L989.2,584.5 L993.2,585.1 L997.2,585.7 L1001.2,586.2 L1005.2,586.8 L1009.2,587.4 L1013.2,588.0 L1017.2,588.5 L1021.2,589.1 L1025.2,589.7 L1029.2,590.2 L1033.2,590.8 L1037.2,591.4 L1041.2,591.9 L1045.2,592.5 L1049.2,593.0 L1053.2,593.6 L1057.2,594.2 L1061.2,594.7 L1065.2,595.3 L1069.2,595.8 L1073.2,596.4 L1077.2,597.0 L1081.2,597.5 L1085.2,598.1 L1089.2,598.6 L1093.2,599.2 L1097.2,599.7 L1101.2,600.3 L1105.2,600.8 L1109.2,601.4 L1113.2,601.9 L1117.2,602.4 L1121.2,603.0 L1125.2,603.5 L1129.2,604.1 L1133.2,604.6 L1137.2,605.2 L1141.2,605.7 L1145.2,606.3 L1149.2,606.8 L1153.2,607.4 L1157.2,607.9 L1161.2,608.5 L1165.2,609.0 L1169.2,609.6 L1173.2,610.2 L1177.2,610.7 L1181.2,611.3 L1185.2,611.9 L1189.2,612.4 L1193.2,613.0 L1197.2,613.6 L1201.2,614.2 L1205.2,614.8 L1209.2,615.5 L1213.2,616.1 L1217.2,616.7 L1221.2,617.4 L1225.2,618.0 L1229.2,618.7 L1233.2,619.4 L1237.2,620.1 L1241.2,620.8 L1245.2,621.5 L1249.2,622.2 L1253.2,623.0 L1257.2,623.7 L1261.2,624.5 L1265.2,625.3 L1269.2,626.2 L1273.2,627.0 L1277.2,627.9 L1281.2,628.8 L1285.2,629.7 L1289.2,630.6 L1293.2,631.6 L1297.2,632.6 L1301.2,633.6 L1305.2,634.7 L1309.2,635.8 L1313.2,636.9 L1317.2,638.1 L1321.2,639.2 L1325.2,640.5 L1329.2,641.7 L1333.2,643.0 L1337.2,644.4 L1341.2,645.7 L1345.2,647.2 L1349.2,648.6 L1353.2,650.1 L1357.2,651.7 L1361.2,653.3 L1365.2,654.9 L1369.2,656.6 L1373.2,658.4 L1377.2,660.2 L1381.2,662.1 L1385.2,664.0 L1389.2,666.0 L1393.2,668.0 L1397.2,670.1 L1401.2,672.3 L1405.2,674.5 L1408.6,676.5" fill="none" stroke="#ff0000" stroke-width="2.8" stroke-linejoin="round"/>
<g font-size="38.2" text-anchor="middle">
<text x="141.2" y="1117.3">0</text>
<text x="394.7" y="1117.3">2000</text>
<text x="648.3" y="1117.3">4000</text>
<text x="901.8" y="1117.3">6000</text>
<text x="1155.4" y="1117.3">8000</text>
<text x="1408.9" y="1117.3">10,000</text>
</g>
<g font-size="38.2" text-anchor="end">
<text x="125.3" y="76.0">3</text>
<text x="125.3" y="175.3">2</text>
<text x="125.3" y="276.3">1</text>
<text x="125.3" y="376.0">0</text>
<text x="125.3" y="476.8">-1</text>
<text x="125.3" y="576.0">-2</text>
<text x="125.3" y="677.1">-3</text>
<text x="125.3" y="776.6">-4</text>
<text x="125.3" y="875.6">-5</text>
<text x="125.3" y="976.9">-6</text>
<text x="125.3" y="1075.8">-7</text>
</g>
<text x="775.2" y="1174.8" font-size="42" text-anchor="middle" letter-spacing="0.22">Iterations</text>
<text transform="translate(65.2,561.5) rotate(-90)" font-size="42" text-anchor="middle" letter-spacing="0.4">Residual</text>
<rect x="1050.6" y="91.6" width="328.9" height="105.6" fill="#fff" stroke="#262626" stroke-width="1.4"/>
<path d="M1063.6,120.3 H1180.3" stroke="#0000ff" stroke-width="3.2"/>
<path d="M1063.6,169 H1180.3" stroke="#ff0000" stroke-width="2.8"/>
<text x="1190.6" y="133.5" font-size="34.4" letter-spacing="0.25">Algorithm 1</text>
<text x="1190.6" y="181.0" font-size="34.4" letter-spacing="0.25">Algorithm 2</text>
</svg>
</body></html>
